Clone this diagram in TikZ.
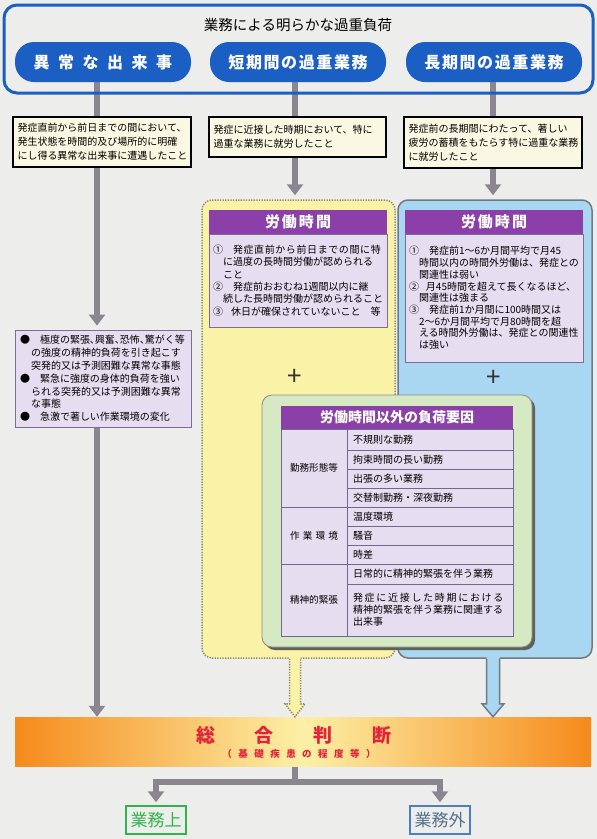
\documentclass[tikz,border=0pt]{standalone}
\usepackage{fontspec}
\setmainfont{Noto Sans CJK JP}
\usetikzlibrary{arrows.meta,calc,shadows}
\definecolor{paper}{HTML}{EDEDEB}
\definecolor{pillblue}{HTML}{1B5FC5}
\definecolor{lineg}{HTML}{8A8690}
\definecolor{descfill}{HTML}{FAF8E2}
\definecolor{yreg}{HTML}{FAF2A6}
\definecolor{ydot}{HTML}{8E8A6E}
\definecolor{breg}{HTML}{A9D6F0}
\definecolor{bline}{HTML}{707A86}
\definecolor{purp}{HTML}{8B3FA9}
\definecolor{lav}{HTML}{E7DDF0}
\definecolor{lavline}{HTML}{7A6E92}
\definecolor{gbox}{HTML}{D5EAC2}
\definecolor{gshadow}{HTML}{5F6159}
\definecolor{tline}{HTML}{6E6A8E}
\definecolor{orng}{HTML}{F68A1C}
\definecolor{pale}{HTML}{FCF0A6}
\definecolor{redj}{HTML}{E4233B}
\definecolor{okgreen}{HTML}{2FB54A}
\definecolor{gaitext}{HTML}{55708E}
\definecolor{gaibox}{HTML}{4D7EC0}
\pgfdeclarelayer{paperlayer}
\pgfdeclarelayer{linelayer}
\pgfsetlayers{paperlayer,linelayer,main}
\newcommand{\tk}{、\kern-0.5em}
\begin{document}
\begin{tikzpicture}[x=1pt,y=-1pt,
  conn/.style={draw=lineg, line width=5.5pt},
  tipg/.style={-{Triangle[width=16pt,length=11pt]}},
  pill/.style={rectangle, rounded corners=19pt, fill=pillblue, minimum width=176pt, minimum height=40pt, text=white, font=\fontsize{16}{16}\selectfont\bfseries, inner sep=0pt},
  desc/.style={draw=black, line width=1.3pt, fill=descfill, align=left, font=\fontsize{10}{14}\selectfont, inner xsep=4pt, inner ysep=0pt},
  phead/.style={fill=purp, text=white, font=\fontsize{15}{15}\selectfont\bfseries, minimum width=178pt, minimum height=24pt, inner sep=0pt},
  pbody/.style={fill=lav, draw=lavline, line width=0.8pt, align=left, inner xsep=4pt, inner ysep=0pt, text width=170pt},
  region/.style={rectangle, rounded corners=10pt, minimum width=193pt, minimum height=458pt, inner sep=0pt},
  plus/.style={font=\fontsize{26}{26}\selectfont, text=black!80},
  thead/.style={fill=purp, text=white, font=\fontsize{14}{14}\selectfont\bfseries, minimum width=232pt, minimum height=23pt, inner sep=0pt},
  cellR/.style={draw=tline, line width=0.9pt, fill=lav, text width=154pt, inner xsep=6pt, inner ysep=0pt, align=left, font=\fontsize{10}{12}\selectfont},
  cellL/.style={draw=tline, line width=0.9pt, fill=lav, text width=60pt, inner xsep=3pt, inner ysep=0pt, align=center, font=\fontsize{9.6}{12}\selectfont},
  result/.style={line width=1.5pt, minimum width=60pt, minimum height=28pt, inner sep=0pt, font=\fontsize{17}{17}\selectfont}
]
\begin{pgfonlayer}{paperlayer}
\fill[paper] (0,0) rectangle (597,839);
\end{pgfonlayer}
\useasboundingbox (0,0) rectangle (597,839);

% column coordinates
\coordinate (c1) at (97,0);
\coordinate (c2) at (295,0);
\coordinate (c3) at (493,0);

% top frame
\node[draw=pillblue, line width=3pt, rounded corners=13pt, minimum width=589pt, minimum height=88pt, inner sep=0pt] (outer) at (298.5,49) {};
\node[font=\fontsize{14.5}{14.5}\selectfont] (title) at (298,25) {業務による明らかな過重負荷};
\node[pill] (p1) at (103,62) {異\hspace{8.5pt}常\hspace{8.5pt}な\hspace{8.5pt}出\hspace{8.5pt}来\hspace{8.5pt}事};
\node[pill] (p2) at (298,62) {短\hspace{1.6pt}期\hspace{1.6pt}間\hspace{1.6pt}の\hspace{1.6pt}過\hspace{1.6pt}重\hspace{1.6pt}業\hspace{1.6pt}務};
\node[pill] (p3) at (494,62) {長\hspace{1.6pt}期\hspace{1.6pt}間\hspace{1.6pt}の\hspace{1.6pt}過\hspace{1.6pt}重\hspace{1.6pt}業\hspace{1.6pt}務};

% description boxes
\node[desc, text width=169pt, inner xsep=4.5pt, minimum height=50pt] (d1) at (102,142) {発症直前から前日までの間において、\\発生状態を時間的及び場所的に明確\\にし得る異常な出来事に遭遇したこと};
\node[desc, text width=168pt, inner xsep=4.5pt, minimum height=40pt] (d2) at (297.5,137) {発症に近接した時期において、特に\\過重な業務に就労したこと};
\node[desc, text width=169pt, inner xsep=4.5pt, minimum height=51pt] (d3) at (493,142.5) {発症前の長期間にわたって、著しい\\疲労の蓄積をもたらす特に過重な業務\\に就労したこと};

% left bullet box
\node[fill=lav, draw=lavline, line width=0.8pt, align=left, inner xsep=5pt, inner ysep=0pt, text width=166pt, minimum height=97pt, font=\fontsize{10}{12.8}\selectfont] (b1) at (103,378.5) {●\kern1em 極度の緊張\tk 興奮\tk 恐怖\tk 驚がく等\\\hspace*{1.1em}の強度の精神的負荷を引き起こす\\\hspace*{1.1em}突発的又は予測困難な異常な事態\\●\kern1em 緊急に強度の身体的負荷を強い\\\hspace*{1.1em}られる突発的又は予測困難な異常\\\hspace*{1.1em}な事態\\●\kern1em 急激で著しい作業環境の変化};

% regions
\node[region, fill=yreg, draw=ydot, line width=1.5pt, dash pattern=on 1.3pt off 1.3pt] (Y) at (298.5,429) {};
\node[region, fill=breg, draw=bline, line width=1.5pt, minimum width=194pt] (B) at (495,429) {};

% middle column content
\node[phead] (h2) at (298,222) {労\hspace{2pt}働\hspace{2pt}時\hspace{2pt}間};
\node[pbody, minimum height=93pt, font=\fontsize{10}{12.4}\selectfont] (m2) at (298,280.5) {①\kern1em {\addfontfeature{LetterSpace=6}発症直前から前日までの間に特}\\\hspace*{1em}に過度の長時間労働が認められる\\\hspace*{1em}こと\\②\kern1em 発症前おおむね1週間以内に継\\\hspace*{1em}続した長時間労働が認められること\\③\kern0.8em 休日が確保されていないこと\kern1em 等};
\node[plus] (plus2) at (295,377) {+};

% right column content
\node[phead] (h3) at (494,222) {労\hspace{2pt}働\hspace{2pt}時\hspace{2pt}間};
\node[pbody, minimum height=128pt, font=\fontsize{10}{11.7}\selectfont] (m3) at (494,298) {①\kern1em 発症前1～6か月間平均で月45\\\hspace*{1em}時間以内の時間外労働は、発症との\\\hspace*{1em}関連性は弱い\\②\kern0.7em 月45時間を超えて長くなるほど、\\\hspace*{1em}関連性は強まる\\③\kern1em 発症前1か月間に100時間又は\\\hspace*{1em}2～6か月間平均で月80時間を超\\\hspace*{1em}える時間外労働は、発症との関連性\\\hspace*{1em}は強い};
\node[plus] (plus3) at (494,378) {+};

% green box with table
\node[fill=gbox, draw=black!45, line width=0.8pt, rounded corners=10pt, minimum width=270pt, minimum height=252pt, inner sep=0pt, drop shadow={shadow xshift=3pt, shadow yshift=-3pt, fill=gshadow, opacity=1}] (G) at (397,521) {};
\node[thead] (th) at (397,417.5) {労働時間以外の負荷要因};
\node[cellL, minimum height=78pt] (k1) at (314,468) {勤務形態等};
\node[cellL, minimum height=57pt] (k2) at (314,535.5) {作\hspace{3.2pt}業\hspace{3.2pt}環\hspace{3.2pt}境};
\node[cellL, minimum height=72pt] (k3) at (314,600) {精神的緊張};
\node[cellR, minimum height=21pt] (r1) at (430,439.5) {不規則な勤務};
\node[cellR, minimum height=19pt] (r2) at (430,459.5) {拘束時間の長い勤務};
\node[cellR, minimum height=19pt] (r3) at (430,478.5) {出張の多い業務};
\node[cellR, minimum height=19pt] (r4) at (430,497.5) {交替制勤務・深夜勤務};
\node[cellR, minimum height=19pt] (r5) at (430,516.5) {温度環境};
\node[cellR, minimum height=19pt] (r6) at (430,535.5) {騒音};
\node[cellR, minimum height=19pt] (r7) at (430,554.5) {時差};
\node[cellR, minimum height=20pt] (r8) at (430,574) {日常的に精神的緊張を伴う業務};
\node[cellR, minimum height=52pt] (r9) at (430,610) {{\addfontfeature{LetterSpace=17}発症に近接した時期における}\\精神的緊張を伴う業務に関連する\\出来事};

% judgement band
\node[minimum width=576pt, minimum height=49pt, inner sep=0pt, left color=orng, right color=orng, middle color=pale] (band) at (303,741.5) {};
\node[text=redj, font=\fontsize{19}{19}\selectfont\bfseries] (judge) at (294,735) {総\hspace{40pt}合\hspace{40pt}判\hspace{40pt}断};
\node[text=redj, font=\fontsize{9.5}{9.5}\selectfont\bfseries] (judgesub) at (299,754) {{\addfontfeature{LetterSpace=68}（基礎疾患の程度等）}};

% results
\node[result, draw=okgreen, text=okgreen] (j1) at (156,820) {業務上};
\node[result, draw=gaibox, text=gaitext] (j2) at (440,820) {業務外};
\coordinate (fork) at (295,782);

% fat arrows from regions to band
\coordinate (ya) at (Y.south -| c2);
\coordinate (yb) at (band.north -| c2);
\fill[yreg] ($(ya)+(-5.5,-3)$) -- ($(yb)+(-5.5,-13)$) -- ($(yb)+(-10,-13)$) -- (yb) -- ($(yb)+(10,-13)$) -- ($(yb)+(5.5,-13)$) -- ($(ya)+(5.5,-3)$) -- cycle;
\draw[draw=ydot, line width=1.5pt, dash pattern=on 1.3pt off 1.3pt, line join=miter] ($(ya)+(-5.5,0)$) -- ($(yb)+(-5.5,-13)$) -- ($(yb)+(-10,-13)$) -- (yb) -- ($(yb)+(10,-13)$) -- ($(yb)+(5.5,-13)$) -- ($(ya)+(5.5,0)$);
\coordinate (ba) at (B.south -| c3);
\coordinate (bb) at (band.north -| c3);
\fill[breg] ($(ba)+(-6.5,-3)$) -- ($(bb)+(-6.5,-13)$) -- ($(bb)+(-11,-13)$) -- (bb) -- ($(bb)+(11,-13)$) -- ($(bb)+(6.5,-13)$) -- ($(ba)+(6.5,-3)$) -- cycle;
\draw[draw=bline, line width=1.5pt, line join=miter] ($(ba)+(-6.5,0)$) -- ($(bb)+(-6.5,-13)$) -- ($(bb)+(-11,-13)$) -- (bb) -- ($(bb)+(11,-13)$) -- ($(bb)+(6.5,-13)$) -- ($(ba)+(6.5,0)$);

% gray connectors (below boxes)
\begin{pgfonlayer}{linelayer}
\draw[conn] (p1.south -| c1) -- (d1.north -| c1);
\draw[conn] (p2.south -| c2) -- (d2.north -| c2);
\draw[conn] (p3.south -| c3) -- (d3.north -| c3);
\draw[conn, tipg, shorten >=4pt] (d1.south -| c1) -- (b1.north -| c1);
\draw[conn, tipg, shorten >=4pt] (d2.south -| c2) -- (Y.north -| c2);
\draw[conn, tipg, shorten >=4pt] (d3.south -| c3) -- (B.north -| c3);
\draw[conn, tipg] (b1.south -| c1) -- (band.north -| c1);
\draw[conn] (band.south -| fork) -- (fork);
\draw[conn, tipg, shorten >=3pt] (fork) -| (j1.north);
\draw[conn, tipg, shorten >=3pt] (fork) -| (j2.north);
\end{pgfonlayer}
\end{tikzpicture}
\end{document}
